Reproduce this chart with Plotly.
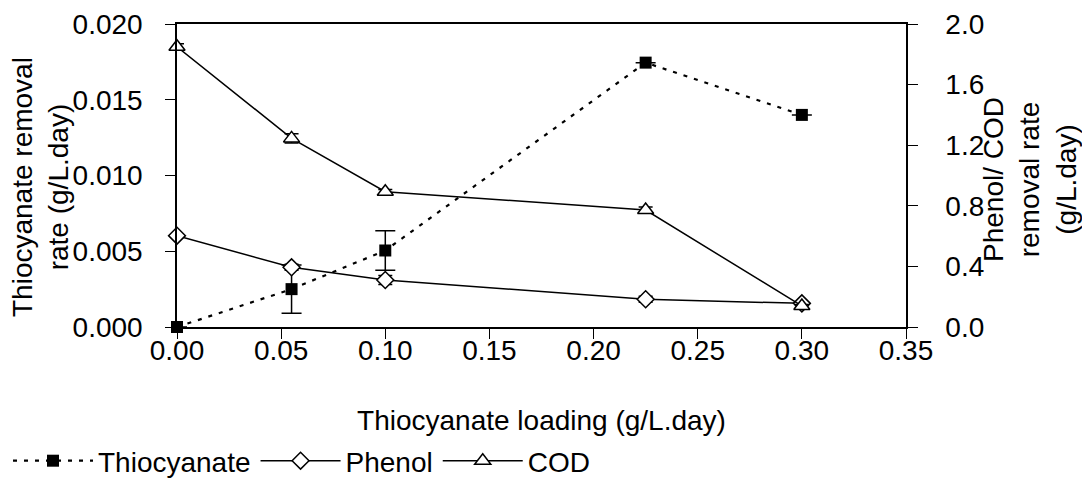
import plotly.graph_objects as go

loading = [0.0, 0.055, 0.1, 0.225, 0.3]
thio_rate = [0.0, 0.0025, 0.00505, 0.01745, 0.0140]
thio_err = [0.0, 0.0016, 0.0013, 0.0, 0.0]
phenol_rate = [0.603, 0.394, 0.31, 0.183, 0.156]
phenol_err = [0.01, 0.02, 0.03, 0.02, 0.01]
cod_rate = [1.85, 1.245, 0.893, 0.772, 0.139]
cod_err = [0.02, 0.03, 0.015, 0.02, 0.01]

FONT = "Liberation Sans, Arial, sans-serif"
FS = 28

fig = go.Figure()
fig.add_trace(go.Scatter(
    x=loading, y=thio_rate, name="Thiocyanate", mode="lines+markers",
    line=dict(color="black", width=2.2, dash="4px,7px"),
    marker=dict(symbol="square", size=12, color="black"),
    error_y=dict(type="data", array=thio_err, color="black", thickness=1.5, width=10),
    cliponaxis=False, yaxis="y"))
fig.add_trace(go.Scatter(
    x=loading, y=phenol_rate, name="Phenol", mode="lines+markers",
    line=dict(color="black", width=1.5),
    marker=dict(symbol="diamond", size=13, color="white", line=dict(color="black", width=1.5)),
    error_y=dict(type="data", array=phenol_err, color="black", thickness=1.5, width=7),
    cliponaxis=False, yaxis="y2"))
fig.add_trace(go.Scatter(
    x=loading, y=cod_rate, name="COD", mode="lines+markers",
    line=dict(color="black", width=1.5),
    marker=dict(symbol="triangle-up", size=14, color="white", line=dict(color="black", width=1.5)),
    error_y=dict(type="data", array=cod_err, color="black", thickness=1.5, width=7),
    cliponaxis=False, yaxis="y2"))

axis_common = dict(showgrid=False, zeroline=False, showline=True, linecolor="black",
                   ticks="outside", ticklen=10, tickcolor="black",
                   tickwidth=1, automargin=False,
                   tickfont=dict(family=FONT, size=FS, color="black"))

fig.update_layout(
    width=1082, height=478,
    margin=dict(l=177, r=176, t=24, b=151, autoexpand=False),
    paper_bgcolor="white", plot_bgcolor="white",
    font=dict(family=FONT, size=FS, color="black"),
    showlegend=True,
    legend=dict(orientation="h", xref="container", yref="container",
                x=8 / 1082, xanchor="left", y=(478 - 461) / 478, yanchor="middle",
                font=dict(family=FONT, size=FS, color="black"), itemwidth=80,
                bgcolor="rgba(0,0,0,0)"),
    # axis with tick marks and frame
    xaxis=dict(range=[0, 0.35], dtick=0.05, mirror=True, linewidth=2,
               showticklabels=False, **axis_common),
    # label-only axis so that tick labels sit right under the tick marks
    xaxis2=dict(range=[0, 0.35], dtick=0.05, tickformat=".2f", overlaying="x",
                anchor="y", side="bottom", showgrid=False, zeroline=False,
                showline=False, ticks="", automargin=False, ticklabelstandoff=4,
                tickfont=dict(family=FONT, size=FS, color="black"),
                title=dict(text="Thiocyanate loading (g/L.day)", standoff=46,
                           font=dict(family=FONT, size=FS, color="black"))),
    yaxis=dict(range=[0, 0.02], dtick=0.005, tickformat=".3f", ticklabelstandoff=17,
               linewidth=1.5, **axis_common),
    yaxis2=dict(range=[0, 2.0], dtick=0.4, tickformat=".1f", overlaying="y", side="right",
                ticklabelstandoff=22, linewidth=1.5, **axis_common),
    annotations=[
        dict(text="Thiocyanate removal<br>rate (g/L.day)", textangle=-90,
             xref="paper", yref="paper", x=(40 - 177) / 729, y=(327 - 187) / 303,
             xanchor="center", yanchor="middle", showarrow=False,
             font=dict(family=FONT, size=FS, color="black")),
        dict(text="Phenol/ COD<br>removal rate<br>(g/L.day)", textangle=-90,
             xref="paper", yref="paper", x=(1030 - 177) / 729, y=(327 - 180) / 303,
             xanchor="center", yanchor="middle", showarrow=False,
             font=dict(family=FONT, size=FS, color="black")),
    ],
)

# an invisible trace so that xaxis2 is drawn
fig.add_trace(go.Scatter(x=[loading[0]], y=[None], xaxis="x2", yaxis="y",
                         showlegend=False, hoverinfo="skip", mode="markers",
                         marker=dict(opacity=0)))

fig.write_html("out.html")
